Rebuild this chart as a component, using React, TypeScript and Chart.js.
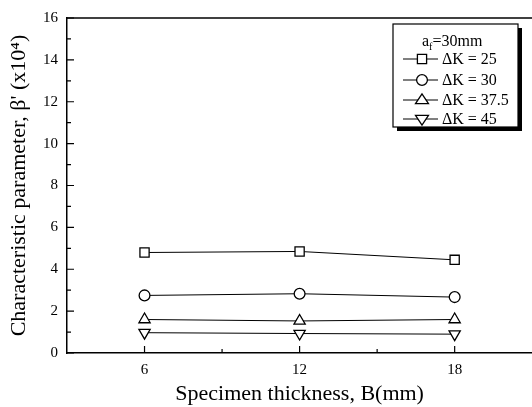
import React, { useEffect, useRef } from "react";
import { Chart, registerables } from "chart.js";

Chart.register(...registerables);

const thicknessB = [6, 12, 18];
const dk25 = [4.8, 4.85, 4.45];
const dk30 = [2.75, 2.83, 2.67];
const dk375 = [1.6, 1.53, 1.6];
const dk45 = [0.97, 0.93, 0.9];
const seriesLabels = ["ΔK = 25", "ΔK = 30", "ΔK = 37.5", "ΔK = 45"];
const xMajorTicks = [6, 12, 18];
const xMinorTicks = [9, 15];
const yMajorTicks = [0, 2, 4, 6, 8, 10, 12, 14, 16];
const yMinorTicks = [1, 3, 5, 7, 9, 11, 13, 15];

const SERIF = "'Liberation Serif', 'Times New Roman', serif";

function drawMarker(ctx: CanvasRenderingContext2D, style: string, rot: number, x: number, y: number, r: number) {
  ctx.save();
  ctx.fillStyle = "#fff";
  ctx.strokeStyle = "#000";
  ctx.lineWidth = 1.3;
  ctx.beginPath();
  if (style === "rect") {
    const s = r * Math.SQRT1_2;
    ctx.rect(x - s, y - s, 2 * s, 2 * s);
  } else if (style === "circle") {
    ctx.arc(x, y, r, 0, Math.PI * 2);
  } else {
    const d = rot === 180 ? -1 : 1;
    const h = r * 1.5;
    const w = r * Math.sqrt(3) / 2 * 1.15;
    ctx.moveTo(x, y - d * h * 0.62);
    ctx.lineTo(x - w, y + d * h * 0.38);
    ctx.lineTo(x + w, y + d * h * 0.38);
    ctx.closePath();
  }
  ctx.fill();
  ctx.stroke();
  ctx.restore();
}

const decorPlugin = {
  id: "decor",
  afterDraw(chart: any) {
    const { ctx, chartArea, scales } = chart;
    const xs = scales.x;
    const ys = scales.y;
    ctx.save();
    ctx.strokeStyle = "#000";
    // top border
    ctx.lineWidth = 1.5;
    ctx.beginPath();
    ctx.moveTo(chartArea.left, chartArea.top);
    ctx.lineTo(chartArea.right, chartArea.top);
    ctx.stroke();
    // inward ticks
    ctx.lineWidth = 1.2;
    ctx.beginPath();
    yMajorTicks.forEach((v) => {
      const py = ys.getPixelForValue(v);
      ctx.moveTo(chartArea.left, py);
      ctx.lineTo(chartArea.left + 7, py);
    });
    yMinorTicks.forEach((v) => {
      const py = ys.getPixelForValue(v);
      ctx.moveTo(chartArea.left, py);
      ctx.lineTo(chartArea.left + 4, py);
    });
    xMajorTicks.forEach((v) => {
      const px = xs.getPixelForValue(v);
      ctx.moveTo(px, chartArea.bottom);
      ctx.lineTo(px, chartArea.bottom - 7);
    });
    xMinorTicks.forEach((v) => {
      const px = xs.getPixelForValue(v);
      ctx.moveTo(px, chartArea.bottom);
      ctx.lineTo(px, chartArea.bottom - 4);
    });
    ctx.stroke();

    // legend box
    const bx = 393, by = 24, bw = 125, bh = 103;
    ctx.fillStyle = "#000";
    ctx.fillRect(bx + 4, by + 4, bw, bh);
    ctx.fillStyle = "#fff";
    ctx.fillRect(bx, by, bw, bh);
    ctx.lineWidth = 1.2;
    ctx.strokeRect(bx, by, bw, bh);

    ctx.fillStyle = "#000";
    ctx.textBaseline = "alphabetic";
    ctx.textAlign = "left";
    ctx.font = `16px ${SERIF}`;
    const tx = 422;
    ctx.fillText("a", tx, 46);
    const aw = ctx.measureText("a").width;
    ctx.font = `10px ${SERIF}`;
    ctx.fillText("f", tx + aw, 50);
    const fw = ctx.measureText("f").width;
    ctx.font = `16px ${SERIF}`;
    ctx.fillText("=30mm", tx + aw + fw, 46);

    const rows = [59, 80, 100, 119];
    chart.data.datasets.forEach((ds: any, i: number) => {
      const y = rows[i];
      ctx.lineWidth = 1;
      ctx.beginPath();
      ctx.moveTo(403, y);
      ctx.lineTo(438, y);
      ctx.stroke();
      drawMarker(ctx, ds.pointStyle, ds.pointRotation || 0, 422, y, ds.pointRadius);
      ctx.fillStyle = "#000";
      ctx.font = `16px ${SERIF}`;
      ctx.textBaseline = "middle";
      ctx.fillText(ds.label, 442, y + 1);
    });
    ctx.restore();
  },
};

function makeDataset(label: string, values: number[], style: string, radius: number, rotation = 0) {
  return {
    label,
    data: thicknessB.map((x, i) => ({ x, y: values[i] })),
    borderColor: "#000",
    borderWidth: 1,
    backgroundColor: "#fff",
    pointStyle: style,
    pointRotation: rotation,
    pointRadius: radius,
    pointBorderWidth: 1.3,
    pointBackgroundColor: "#fff",
    pointBorderColor: "#000",
    tension: 0,
  };
}

export default function App() {
  const ref = useRef<HTMLCanvasElement | null>(null);
  useEffect(() => {
    if (!ref.current) return;
    const chart = new Chart(ref.current, {
      type: "line",
      data: {
        datasets: [
          makeDataset(seriesLabels[0], dk25, "rect", 6.5),
          makeDataset(seriesLabels[1], dk30, "circle", 5.4),
          makeDataset(seriesLabels[2], dk375, "triangle", 6.5),
          makeDataset(seriesLabels[3], dk45, "triangle", 6.5, 180),
        ] as any,
      },
      options: {
        animation: false,
        responsive: false,
        devicePixelRatio: 1,
        layout: { padding: { left: 0, right: 5, top: 15, bottom: 0 } },
        plugins: { legend: { display: false }, tooltip: { enabled: false } },
        scales: {
          x: {
            type: "linear",
            min: 3,
            max: 21,
            afterFit: (s: any) => { s.height = 54; },
            afterBuildTicks: (s: any) => { s.ticks = xMajorTicks.map((v) => ({ value: v })); },
            grid: { display: false, drawTicks: false },
            border: { display: true, color: "#000", width: 1.5 },
            ticks: {
              padding: 8,
              color: "#000",
              font: { family: SERIF, size: 15 },
              callback: (v: any) => String(v),
            },
            title: {
              display: true,
              text: "Specimen thickness, B(mm)",
              color: "#000",
              font: { family: SERIF, size: 22 },
              padding: { top: 0, bottom: 0 },
            },
          },
          y: {
            type: "linear",
            min: 0,
            max: 16,
            afterFit: (s: any) => { s.width = 67; },
            afterBuildTicks: (s: any) => { s.ticks = yMajorTicks.map((v) => ({ value: v })); },
            grid: { display: false, drawTicks: false },
            border: { display: true, color: "#000", width: 1.5 },
            ticks: {
              padding: 9,
              color: "#000",
              font: { family: SERIF, size: 15 },
              callback: (v: any) => String(v),
            },
            title: {
              display: true,
              text: "Characteristic parameter, β' (x10⁴)",
              color: "#000",
              font: { family: SERIF, size: 22 },
              padding: { top: 6, bottom: 0 },
            },
          },
        },
      } as any,
      plugins: [decorPlugin],
    });
    return () => chart.destroy();
  }, []);
  return (
    <div style={{ position: "fixed", left: 0, top: 0, width: 540, height: 407, background: "#fff" }}>
      <canvas ref={ref} width={540} height={407} />
    </div>
  );
}
